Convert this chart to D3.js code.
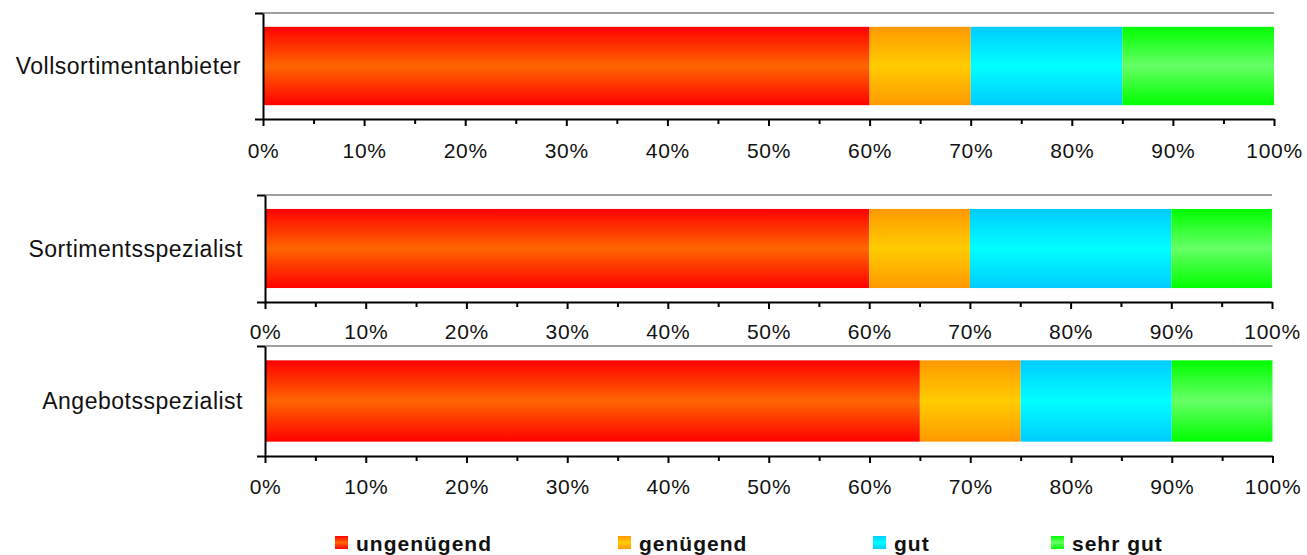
<!DOCTYPE html>
<html>
<head>
<meta charset="utf-8">
<script src="https://cdn.jsdelivr.net/npm/d3@7"></script>
<style>
  html, body { margin: 0; padding: 0; background: #fff; }
  svg { display: block; }
</style>
</head>
<body>
<svg id="chart" width="1307" height="555"></svg>
<script>
// Anbieter-Typen und ihre Bewertungsverteilung (Anteile in %)
const categories = ["Vollsortimentanbieter", "Sortimentsspezialist", "Angebotsspezialist"];
const ratings = ["ungenügend", "genügend", "gut", "sehr gut"];
const ungenuegend = [60, 60, 65];
const genuegend = [10, 10, 10];
const gut = [15, 20, 15];
const sehrGut = [15, 10, 10];
const tickValues = [0, 10, 20, 30, 40, 50, 60, 70, 80, 90, 100];
const tickLabels = ["0%", "10%", "20%", "30%", "40%", "50%", "60%", "70%", "80%", "90%", "100%"];

const seriesValues = [ungenuegend, genuegend, gut, sehrGut];

// Gradient colours per rating: [edge, centre]
const gradientColors = [
  ["#ff0000", "#ff6600"],
  ["#ff9900", "#ffcc00"],
  ["#00ccff", "#00ffff"],
  ["#00ff00", "#66ff66"]
];

// Each category gets its own small panel
const panels = [
  { left: 263, right: 1274,   top: 13,  bottom: 119, labelPad: 17 },
  { left: 265, right: 1272,   top: 195, bottom: 302, labelPad: 15 },
  { left: 265, right: 1272.5, top: 346, bottom: 456, labelPad: 16 }
];

const svg = d3.select("#chart");
const defs = svg.append("defs");

gradientColors.forEach((c, i) => {
  const g = defs.append("linearGradient")
    .attr("id", "grad" + i)
    .attr("x1", 0).attr("y1", 0).attr("x2", 0).attr("y2", 1);
  g.append("stop").attr("offset", "0%").attr("stop-color", c[0]);
  g.append("stop").attr("offset", "50%").attr("stop-color", c[1]);
  g.append("stop").attr("offset", "100%").attr("stop-color", c[0]);
});

const labelFont = "'Liberation Sans', Arial, Helvetica, sans-serif";

categories.forEach((cat, ci) => {
  const p = panels[ci];
  const x = d3.scaleLinear().domain([0, 100]).range([p.left, p.right]);
  const yBand = d3.scaleBand().domain([cat]).range([p.top, p.bottom]).padding(0.15);
  const yEdge = d3.scaleLinear().domain([0, 1]).range([p.bottom, p.top]);

  const g = svg.append("g");

  // stacked segments
  const rows = ratings.map((r, ri) => {
    const start = d3.sum(seriesValues.slice(0, ri), s => s[ci]);
    return { rating: r, idx: ri, start, end: start + seriesValues[ri][ci] };
  });

  g.selectAll("rect.seg")
    .data(rows)
    .join("rect")
    .attr("class", "seg")
    .attr("x", d => x(d.start))
    .attr("width", d => x(d.end) - x(d.start))
    .attr("y", yBand(cat))
    .attr("height", yBand.bandwidth())
    .attr("fill", d => `url(#grad${d.idx})`);

  // top frame line
  g.append("line")
    .attr("x1", x(0)).attr("x2", x(100))
    .attr("y1", yEdge(1)).attr("y2", yEdge(1))
    .attr("stroke", "#a0a0a0")
    .attr("stroke-width", 2);

  // category axis (left) with tick marks at the panel edges
  const leftAxis = g.append("g")
    .attr("transform", `translate(${x(0)},0)`)
    .call(d3.axisLeft(yEdge).tickValues([0, 1]).tickSize(8).tickSizeOuter(0).tickFormat(""));
  leftAxis.selectAll("path, line").attr("stroke", "#000").attr("stroke-width", 2);

  // minor ticks
  const minor = g.append("g")
    .attr("transform", `translate(0,${p.bottom})`)
    .call(d3.axisBottom(x).tickValues(d3.range(5, 100, 10)).tickSize(5).tickSizeOuter(0).tickFormat(""));
  minor.select("path").remove();
  minor.selectAll("line").attr("stroke", "#000").attr("stroke-width", 2);

  // value axis (bottom)
  const bottomAxis = g.append("g")
    .attr("transform", `translate(0,${p.bottom})`)
    .call(d3.axisBottom(x)
      .tickValues(tickValues)
      .tickSize(7)
      .tickSizeOuter(0)
      .tickPadding(p.labelPad)
      .tickFormat((d, i) => tickLabels[i]));
  bottomAxis.selectAll("path, line").attr("stroke", "#000").attr("stroke-width", 2);
  bottomAxis.selectAll("text")
    .attr("fill", "#111")
    .style("font-family", labelFont)
    .style("font-size", "21px")
    .style("letter-spacing", "0.7px");

  // category label
  g.append("text")
    .attr("x", x(0) - 22)
    .attr("y", yBand(cat) + yBand.bandwidth() / 2)
    .attr("text-anchor", "end")
    .attr("dominant-baseline", "central")
    .attr("fill", "#111")
    .style("font-family", labelFont)
    .style("font-size", "23px")
    .style("letter-spacing", "0.5px")
    .text(cat);
});

// legend
const legendX = [335, 618, 873, 1051];
const legend = svg.append("g")
  .selectAll("g")
  .data(ratings)
  .join("g")
  .attr("transform", (d, i) => `translate(${legendX[i]},536)`);

legend.append("rect")
  .attr("width", 13)
  .attr("height", 13)
  .attr("fill", (d, i) => `url(#grad${i})`);

legend.append("text")
  .attr("x", 21)
  .attr("y", 7)
  .attr("dominant-baseline", "central")
  .attr("fill", "#111")
  .style("font-family", labelFont)
  .style("font-size", "21px")
  .style("font-weight", "bold")
  .style("letter-spacing", "1px")
  .text(d => d);
</script>
</body>
</html>
